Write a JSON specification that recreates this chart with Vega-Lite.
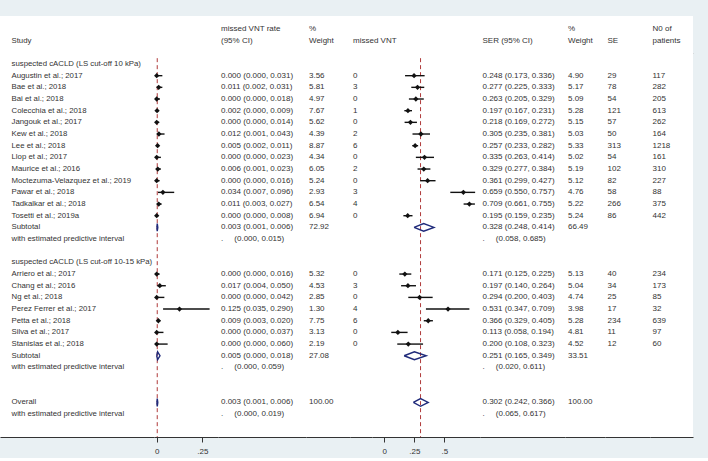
{
"$schema": "https://vega.github.io/schema/vega-lite/v6.json",
"background": "#e9f0f3",
"padding": {"left": 0, "top": 16, "right": 15, "bottom": 3},
"spacing": 0,
"bounds": "full",
"datasets": {
"head": [
{"row": -3, "rate": "missed VNT rate", "w1": "%", "w2": "%", "n": "N0 of"},
{"row": -2, "study": "Study", "rate": "(95% CI)", "w1": "Weight", "mv": "missed VNT", "ser": "SER (95% CI)", "w2": "Weight", "se": "SE", "n": "patients"}
],
"rows": [
{"row": 0, "study": "suspected cACLD (LS cut-off 10 kPa)"},
{"row": 1, "study": "Augustin et al.; 2017", "r": 0.000, "rl": 0.000, "rh": 0.031, "rate": "0.000 (0.000, 0.031)", "w1": "3.56", "mv": "0", "s": 0.248, "sl": 0.173, "sh": 0.336, "ser": "0.248 (0.173, 0.336)", "w2": "4.90", "se": "29", "n": "117"},
{"row": 2, "study": "Bae et al.; 2018", "r": 0.011, "rl": 0.002, "rh": 0.031, "rate": "0.011 (0.002, 0.031)", "w1": "5.81", "mv": "3", "s": 0.277, "sl": 0.225, "sh": 0.333, "ser": "0.277 (0.225, 0.333)", "w2": "5.17", "se": "78", "n": "282"},
{"row": 3, "study": "Bai et al.; 2018", "r": 0.000, "rl": 0.000, "rh": 0.018, "rate": "0.000 (0.000, 0.018)", "w1": "4.97", "mv": "0", "s": 0.263, "sl": 0.205, "sh": 0.329, "ser": "0.263 (0.205, 0.329)", "w2": "5.09", "se": "54", "n": "205"},
{"row": 4, "study": "Colecchia et al.; 2018", "r": 0.002, "rl": 0.000, "rh": 0.009, "rate": "0.002 (0.000, 0.009)", "w1": "7.67", "mv": "1", "s": 0.197, "sl": 0.167, "sh": 0.231, "ser": "0.197 (0.167, 0.231)", "w2": "5.28", "se": "121", "n": "613"},
{"row": 5, "study": "Jangouk et al.; 2017", "r": 0.000, "rl": 0.000, "rh": 0.014, "rate": "0.000 (0.000, 0.014)", "w1": "5.62", "mv": "0", "s": 0.218, "sl": 0.169, "sh": 0.272, "ser": "0.218 (0.169, 0.272)", "w2": "5.15", "se": "57", "n": "262"},
{"row": 6, "study": "Kew et al.; 2018", "r": 0.012, "rl": 0.001, "rh": 0.043, "rate": "0.012 (0.001, 0.043)", "w1": "4.39", "mv": "2", "s": 0.305, "sl": 0.235, "sh": 0.381, "ser": "0.305 (0.235, 0.381)", "w2": "5.03", "se": "50", "n": "164"},
{"row": 7, "study": "Lee et al.; 2018", "r": 0.005, "rl": 0.002, "rh": 0.011, "rate": "0.005 (0.002, 0.011)", "w1": "8.87", "mv": "6", "s": 0.257, "sl": 0.233, "sh": 0.282, "ser": "0.257 (0.233, 0.282)", "w2": "5.33", "se": "313", "n": "1218"},
{"row": 8, "study": "Llop et al.; 2017", "r": 0.000, "rl": 0.000, "rh": 0.023, "rate": "0.000 (0.000, 0.023)", "w1": "4.34", "mv": "0", "s": 0.335, "sl": 0.263, "sh": 0.414, "ser": "0.335 (0.263, 0.414)", "w2": "5.02", "se": "54", "n": "161"},
{"row": 9, "study": "Maurice et al.; 2016", "r": 0.006, "rl": 0.001, "rh": 0.023, "rate": "0.006 (0.001, 0.023)", "w1": "6.05", "mv": "2", "s": 0.329, "sl": 0.277, "sh": 0.384, "ser": "0.329 (0.277, 0.384)", "w2": "5.19", "se": "102", "n": "310"},
{"row": 10, "study": "Moctezuma-Velazquez et al.; 2019", "r": 0.000, "rl": 0.000, "rh": 0.016, "rate": "0.000 (0.000, 0.016)", "w1": "5.24", "mv": "0", "s": 0.361, "sl": 0.299, "sh": 0.427, "ser": "0.361 (0.299, 0.427)", "w2": "5.12", "se": "82", "n": "227"},
{"row": 11, "study": "Pawar et al.; 2018", "r": 0.034, "rl": 0.007, "rh": 0.096, "rate": "0.034 (0.007, 0.096)", "w1": "2.93", "mv": "3", "s": 0.659, "sl": 0.550, "sh": 0.757, "ser": "0.659 (0.550, 0.757)", "w2": "4.76", "se": "58", "n": "88"},
{"row": 12, "study": "Tadkalkar et al.; 2018", "r": 0.011, "rl": 0.003, "rh": 0.027, "rate": "0.011 (0.003, 0.027)", "w1": "6.54", "mv": "4", "s": 0.709, "sl": 0.661, "sh": 0.755, "ser": "0.709 (0.661, 0.755)", "w2": "5.22", "se": "266", "n": "375"},
{"row": 13, "study": "Tosetti et al.; 2019a", "r": 0.000, "rl": 0.000, "rh": 0.008, "rate": "0.000 (0.000, 0.008)", "w1": "6.94", "mv": "0", "s": 0.195, "sl": 0.159, "sh": 0.235, "ser": "0.195 (0.159, 0.235)", "w2": "5.24", "se": "86", "n": "442"},
{"row": 14, "study": "Subtotal", "rate": "0.003 (0.001, 0.006)", "w1": "72.92", "ser": "0.328 (0.248, 0.414)", "w2": "66.49"},
{"row": 15, "study": "with estimated predictive interval", "rate": ".\u00a0\u00a0\u00a0\u00a0\u00a0(0.000, 0.015)", "ser": ".\u00a0\u00a0\u00a0\u00a0\u00a0(0.058, 0.685)"},
{"row": 17, "study": "suspected cACLD (LS cut-off 10-15 kPa)"},
{"row": 18, "study": "Arriero et al.; 2017", "r": 0.000, "rl": 0.000, "rh": 0.016, "rate": "0.000 (0.000, 0.016)", "w1": "5.32", "mv": "0", "s": 0.171, "sl": 0.125, "sh": 0.225, "ser": "0.171 (0.125, 0.225)", "w2": "5.13", "se": "40", "n": "234"},
{"row": 19, "study": "Chang et al.; 2016", "r": 0.017, "rl": 0.004, "rh": 0.050, "rate": "0.017 (0.004, 0.050)", "w1": "4.53", "mv": "3", "s": 0.197, "sl": 0.140, "sh": 0.264, "ser": "0.197 (0.140, 0.264)", "w2": "5.04", "se": "34", "n": "173"},
{"row": 20, "study": "Ng et al.; 2018", "r": 0.000, "rl": 0.000, "rh": 0.042, "rate": "0.000 (0.000, 0.042)", "w1": "2.85", "mv": "0", "s": 0.294, "sl": 0.200, "sh": 0.403, "ser": "0.294 (0.200, 0.403)", "w2": "4.74", "se": "25", "n": "85"},
{"row": 21, "study": "Perez Ferrer et al.; 2017", "r": 0.125, "rl": 0.035, "rh": 0.290, "rate": "0.125 (0.035, 0.290)", "w1": "1.30", "mv": "4", "s": 0.531, "sl": 0.347, "sh": 0.709, "ser": "0.531 (0.347, 0.709)", "w2": "3.98", "se": "17", "n": "32"},
{"row": 22, "study": "Petta et al.; 2018", "r": 0.009, "rl": 0.003, "rh": 0.020, "rate": "0.009 (0.003, 0.020)", "w1": "7.75", "mv": "6", "s": 0.366, "sl": 0.329, "sh": 0.405, "ser": "0.366 (0.329, 0.405)", "w2": "5.28", "se": "234", "n": "639"},
{"row": 23, "study": "Silva et al.; 2017", "r": 0.000, "rl": 0.000, "rh": 0.037, "rate": "0.000 (0.000, 0.037)", "w1": "3.13", "mv": "0", "s": 0.113, "sl": 0.058, "sh": 0.194, "ser": "0.113 (0.058, 0.194)", "w2": "4.81", "se": "11", "n": "97"},
{"row": 24, "study": "Stanislas et al.; 2018", "r": 0.000, "rl": 0.000, "rh": 0.060, "rate": "0.000 (0.000, 0.060)", "w1": "2.19", "mv": "0", "s": 0.200, "sl": 0.108, "sh": 0.323, "ser": "0.200 (0.108, 0.323)", "w2": "4.52", "se": "12", "n": "60"},
{"row": 25, "study": "Subtotal", "rate": "0.005 (0.000, 0.018)", "w1": "27.08", "ser": "0.251 (0.165, 0.349)", "w2": "33.51"},
{"row": 26, "study": "with estimated predictive interval", "rate": ".\u00a0\u00a0\u00a0\u00a0\u00a0(0.000, 0.059)", "ser": ".\u00a0\u00a0\u00a0\u00a0\u00a0(0.020, 0.611)"},
{"row": 29, "study": "Overall", "rate": "0.003 (0.001, 0.006)", "w1": "100.00", "ser": "0.302 (0.242, 0.366)", "w2": "100.00"},
{"row": 30, "study": "with estimated predictive interval", "rate": ".\u00a0\u00a0\u00a0\u00a0\u00a0(0.000, 0.019)", "ser": ".\u00a0\u00a0\u00a0\u00a0\u00a0(0.065, 0.617)"}
],
"overall": [
{"plot": "r", "est": 0.003},
{"plot": "s", "est": 0.302}
],
"diam": [
{"plot": "r", "row": 14, "v": 1, "x": 0.001, "pos": "mid"},
{"plot": "r", "row": 14, "v": 2, "x": 0.003, "pos": "top"},
{"plot": "r", "row": 14, "v": 3, "x": 0.006, "pos": "mid"},
{"plot": "r", "row": 14, "v": 4, "x": 0.003, "pos": "bot"},
{"plot": "r", "row": 14, "v": 5, "x": 0.001, "pos": "mid"},
{"plot": "r", "row": 25, "v": 1, "x": 0.000, "pos": "mid"},
{"plot": "r", "row": 25, "v": 2, "x": 0.005, "pos": "top"},
{"plot": "r", "row": 25, "v": 3, "x": 0.018, "pos": "mid"},
{"plot": "r", "row": 25, "v": 4, "x": 0.005, "pos": "bot"},
{"plot": "r", "row": 25, "v": 5, "x": 0.000, "pos": "mid"},
{"plot": "r", "row": 29, "v": 1, "x": 0.001, "pos": "mid"},
{"plot": "r", "row": 29, "v": 2, "x": 0.003, "pos": "top"},
{"plot": "r", "row": 29, "v": 3, "x": 0.006, "pos": "mid"},
{"plot": "r", "row": 29, "v": 4, "x": 0.003, "pos": "bot"},
{"plot": "r", "row": 29, "v": 5, "x": 0.001, "pos": "mid"},
{"plot": "s", "row": 14, "v": 1, "x": 0.248, "pos": "mid"},
{"plot": "s", "row": 14, "v": 2, "x": 0.328, "pos": "top"},
{"plot": "s", "row": 14, "v": 3, "x": 0.414, "pos": "mid"},
{"plot": "s", "row": 14, "v": 4, "x": 0.328, "pos": "bot"},
{"plot": "s", "row": 14, "v": 5, "x": 0.248, "pos": "mid"},
{"plot": "s", "row": 25, "v": 1, "x": 0.165, "pos": "mid"},
{"plot": "s", "row": 25, "v": 2, "x": 0.251, "pos": "top"},
{"plot": "s", "row": 25, "v": 3, "x": 0.349, "pos": "mid"},
{"plot": "s", "row": 25, "v": 4, "x": 0.251, "pos": "bot"},
{"plot": "s", "row": 25, "v": 5, "x": 0.165, "pos": "mid"},
{"plot": "s", "row": 29, "v": 1, "x": 0.242, "pos": "mid"},
{"plot": "s", "row": 29, "v": 2, "x": 0.302, "pos": "top"},
{"plot": "s", "row": 29, "v": 3, "x": 0.366, "pos": "mid"},
{"plot": "s", "row": 29, "v": 4, "x": 0.302, "pos": "bot"},
{"plot": "s", "row": 29, "v": 5, "x": 0.242, "pos": "mid"}
]
},
"vconcat": [
{"hconcat": [
 {"width": 218, "height": 37, "data": {"name": "head"}, "transform": [{"filter": "isValid(datum.study)"}], "mark": {"type": "text", "align": "left", "baseline": "middle", "dx": 11.5, "fontSize": 7.8}, "encoding": {
  "y": {"field": "row", "type": "ordinal", "axis": null, "scale": {"type": "band", "domain": [-3, -2], "paddingInner": 0, "paddingOuter": 0.585, "align": 0.56, "round": false}},
  "x": {"datum": 0, "type": "quantitative", "scale": {"domain": [0, 1], "nice": false, "zero": false}, "axis": {"domain": true, "domainColor": "#c4c4c4", "ticks": false, "labels": false, "grid": false, "title": null}},
  "text": {"field": "study", "type": "nominal"}}},
 {"width": 88, "height": 37, "data": {"name": "head"}, "transform": [{"filter": "isValid(datum.rate)"}], "mark": {"type": "text", "align": "left", "baseline": "middle", "dx": 3}, "encoding": {
  "y": {"field": "row", "type": "ordinal", "axis": null, "scale": {"type": "band", "domain": [-3, -2], "paddingInner": 0, "paddingOuter": 0.585, "align": 0.56, "round": false}},
  "x": {"datum": 0, "type": "quantitative", "scale": {"domain": [0, 1], "nice": false, "zero": false}, "axis": {"domain": true, "domainColor": "#c4c4c4", "ticks": false, "labels": false, "grid": false, "title": null}},
  "text": {"field": "rate", "type": "nominal"}}},
 {"width": 44, "height": 37, "data": {"name": "head"}, "transform": [{"filter": "isValid(datum.w1)"}], "mark": {"type": "text", "align": "left", "baseline": "middle", "dx": 3}, "encoding": {
  "y": {"field": "row", "type": "ordinal", "axis": null, "scale": {"type": "band", "domain": [-3, -2], "paddingInner": 0, "paddingOuter": 0.585, "align": 0.56, "round": false}},
  "x": {"datum": 0, "type": "quantitative", "scale": {"domain": [0, 1], "nice": false, "zero": false}, "axis": {"domain": true, "domainColor": "#c4c4c4", "ticks": false, "labels": false, "grid": false, "title": null}},
  "text": {"field": "w1", "type": "nominal"}}},
 {"width": 130, "height": 37, "data": {"name": "head"}, "transform": [{"filter": "isValid(datum.mv)"}], "mark": {"type": "text", "align": "left", "baseline": "middle", "dx": 3}, "encoding": {
  "y": {"field": "row", "type": "ordinal", "axis": null, "scale": {"type": "band", "domain": [-3, -2], "paddingInner": 0, "paddingOuter": 0.585, "align": 0.56, "round": false}},
  "x": {"datum": 0, "type": "quantitative", "scale": {"domain": [0, 1], "nice": false, "zero": false}, "axis": {"domain": true, "domainColor": "#c4c4c4", "ticks": false, "labels": false, "grid": false, "title": null}},
  "text": {"field": "mv", "type": "nominal"}}},
 {"width": 85, "height": 37, "data": {"name": "head"}, "transform": [{"filter": "isValid(datum.ser)"}], "mark": {"type": "text", "align": "left", "baseline": "middle", "dx": 2.5}, "encoding": {
  "y": {"field": "row", "type": "ordinal", "axis": null, "scale": {"type": "band", "domain": [-3, -2], "paddingInner": 0, "paddingOuter": 0.585, "align": 0.56, "round": false}},
  "x": {"datum": 0, "type": "quantitative", "scale": {"domain": [0, 1], "nice": false, "zero": false}, "axis": {"domain": true, "domainColor": "#c4c4c4", "ticks": false, "labels": false, "grid": false, "title": null}},
  "text": {"field": "ser", "type": "nominal"}}},
 {"width": 40, "height": 37, "data": {"name": "head"}, "transform": [{"filter": "isValid(datum.w2)"}], "mark": {"type": "text", "align": "left", "baseline": "middle", "dx": 3}, "encoding": {
  "y": {"field": "row", "type": "ordinal", "axis": null, "scale": {"type": "band", "domain": [-3, -2], "paddingInner": 0, "paddingOuter": 0.585, "align": 0.56, "round": false}},
  "x": {"datum": 0, "type": "quantitative", "scale": {"domain": [0, 1], "nice": false, "zero": false}, "axis": {"domain": true, "domainColor": "#c4c4c4", "ticks": false, "labels": false, "grid": false, "title": null}},
  "text": {"field": "w2", "type": "nominal"}}},
 {"width": 45, "height": 37, "data": {"name": "head"}, "transform": [{"filter": "isValid(datum.se)"}], "mark": {"type": "text", "align": "left", "baseline": "middle", "dx": 2.5}, "encoding": {
  "y": {"field": "row", "type": "ordinal", "axis": null, "scale": {"type": "band", "domain": [-3, -2], "paddingInner": 0, "paddingOuter": 0.585, "align": 0.56, "round": false}},
  "x": {"datum": 0, "type": "quantitative", "scale": {"domain": [0, 1], "nice": false, "zero": false}, "axis": {"domain": true, "domainColor": "#c4c4c4", "ticks": false, "labels": false, "grid": false, "title": null}},
  "text": {"field": "se", "type": "nominal"}}},
 {"width": 43, "height": 37, "data": {"name": "head"}, "transform": [{"filter": "isValid(datum.n)"}], "mark": {"type": "text", "align": "left", "baseline": "middle", "dx": 2.5}, "encoding": {
  "y": {"field": "row", "type": "ordinal", "axis": null, "scale": {"type": "band", "domain": [-3, -2], "paddingInner": 0, "paddingOuter": 0.585, "align": 0.56, "round": false}},
  "x": {"datum": 0, "type": "quantitative", "scale": {"domain": [0, 1], "nice": false, "zero": false}, "axis": {"domain": true, "domainColor": "#c4c4c4", "ticks": false, "labels": false, "grid": false, "title": null}},
  "text": {"field": "n", "type": "nominal"}}}
], "spacing": 0, "bounds": "flush"},
{"hconcat": [
 {"width": 154, "height": 384, "data": {"name": "rows"}, "transform": [{"filter": "isValid(datum.study)"}], "mark": {"type": "text", "align": "left", "baseline": "middle", "dx": 11.5, "fontSize": 7.8}, "encoding": {
  "y": {"field": "row", "type": "ordinal", "axis": null, "scale": {"type": "band", "domain": [0,1,2,3,4,5,6,7,8,9,10,11,12,13,14,15,16,17,18,19,20,21,22,23,24,25,26,27,28,29,30,31], "paddingInner": 0, "paddingOuter": 0.4525, "align": 0.489, "round": false}},
  "x": {"datum": 0, "type": "quantitative", "scale": {"domain": [0, 1], "nice": false, "zero": false}, "axis": {"domain": true, "ticks": false, "labels": false, "grid": false, "title": null}},
  "text": {"field": "study", "type": "nominal"}}},
 {"width": 64, "height": 384, "layer": [
  {"data": {"name": "overall"}, "transform": [{"filter": "datum.plot == 'r'"}], "mark": {"type": "rule", "color": "#b03a3a", "strokeDash": [4, 3], "strokeWidth": 1}, "encoding": {
   "x": {"field": "est", "type": "quantitative", "scale": {"domain": [-0.0148, 0.3361], "nice": false, "zero": false}, "axis": {"values": [0, 0.25], "labelExpr": "datum.value == 0 ? '0' : '.25'", "title": null}},
   "y": {"datum": 0, "type": "ordinal", "bandPosition": 0, "axis": null, "scale": {"type": "band", "domain": [0,1,2,3,4,5,6,7,8,9,10,11,12,13,14,15,16,17,18,19,20,21,22,23,24,25,26,27,28,29,30,31], "paddingInner": 0, "paddingOuter": 0.4525, "align": 0.489, "round": false}},
   "y2": {"value": "height"}}},
  {"data": {"name": "rows"}, "transform": [{"filter": "isValid(datum.rl)"}], "mark": {"type": "rule", "color": "#111111", "strokeWidth": 1.4}, "encoding": {
   "x": {"field": "rl", "type": "quantitative", "scale": {"domain": [-0.0148, 0.3361], "nice": false, "zero": false}, "axis": {"values": [0, 0.25], "labelExpr": "datum.value == 0 ? '0' : '.25'", "title": null}},
   "x2": {"field": "rh"},
   "y": {"field": "row", "type": "ordinal", "axis": null, "scale": {"type": "band", "domain": [0,1,2,3,4,5,6,7,8,9,10,11,12,13,14,15,16,17,18,19,20,21,22,23,24,25,26,27,28,29,30,31], "paddingInner": 0, "paddingOuter": 0.4525, "align": 0.489, "round": false}}}},
  {"data": {"name": "rows"}, "transform": [{"filter": "isValid(datum.r)"}], "mark": {"type": "point", "shape": "diamond", "filled": true, "size": 28, "color": "#111111", "opacity": 1, "clip": false}, "encoding": {
   "x": {"field": "r", "type": "quantitative", "scale": {"domain": [-0.0148, 0.3361], "nice": false, "zero": false}, "axis": {"values": [0, 0.25], "labelExpr": "datum.value == 0 ? '0' : '.25'", "title": null}},
   "y": {"field": "row", "type": "ordinal", "axis": null, "scale": {"type": "band", "domain": [0,1,2,3,4,5,6,7,8,9,10,11,12,13,14,15,16,17,18,19,20,21,22,23,24,25,26,27,28,29,30,31], "paddingInner": 0, "paddingOuter": 0.4525, "align": 0.489, "round": false}}}},
  {"data": {"name": "diam"}, "transform": [{"filter": "datum.plot == 'r'"}], "mark": {"type": "line", "color": "#1f2a7a", "strokeWidth": 1.4, "clip": false}, "encoding": {
   "x": {"field": "x", "type": "quantitative", "scale": {"domain": [-0.0148, 0.3361], "nice": false, "zero": false}, "axis": {"values": [0, 0.25], "labelExpr": "datum.value == 0 ? '0' : '.25'", "title": null}},
   "y": {"field": "row", "type": "ordinal", "axis": null, "scale": {"type": "band", "domain": [0,1,2,3,4,5,6,7,8,9,10,11,12,13,14,15,16,17,18,19,20,21,22,23,24,25,26,27,28,29,30,31], "paddingInner": 0, "paddingOuter": 0.4525, "align": 0.489, "round": false}},
   "yOffset": {"field": "pos", "type": "nominal", "scale": {"type": "point", "domain": ["top", "mid", "bot"], "padding": 0.5}},
   "detail": {"field": "row", "type": "nominal"},
   "order": {"field": "v", "type": "quantitative"}}}
 ]},
 {"width": 88, "height": 384, "data": {"name": "rows"}, "transform": [{"filter": "isValid(datum.rate)"}], "mark": {"type": "text", "align": "left", "baseline": "middle", "dx": 3}, "encoding": {
  "y": {"field": "row", "type": "ordinal", "axis": null, "scale": {"type": "band", "domain": [0,1,2,3,4,5,6,7,8,9,10,11,12,13,14,15,16,17,18,19,20,21,22,23,24,25,26,27,28,29,30,31], "paddingInner": 0, "paddingOuter": 0.4525, "align": 0.489, "round": false}},
  "x": {"datum": 0, "type": "quantitative", "scale": {"domain": [0, 1], "nice": false, "zero": false}, "axis": {"domain": true, "ticks": false, "labels": false, "grid": false, "title": null}},
  "text": {"field": "rate", "type": "nominal"}}},
 {"width": 44, "height": 384, "data": {"name": "rows"}, "transform": [{"filter": "isValid(datum.w1)"}], "mark": {"type": "text", "align": "left", "baseline": "middle", "dx": 3}, "encoding": {
  "y": {"field": "row", "type": "ordinal", "axis": null, "scale": {"type": "band", "domain": [0,1,2,3,4,5,6,7,8,9,10,11,12,13,14,15,16,17,18,19,20,21,22,23,24,25,26,27,28,29,30,31], "paddingInner": 0, "paddingOuter": 0.4525, "align": 0.489, "round": false}},
  "x": {"datum": 0, "type": "quantitative", "scale": {"domain": [0, 1], "nice": false, "zero": false}, "axis": {"domain": true, "ticks": false, "labels": false, "grid": false, "title": null}},
  "text": {"field": "w1", "type": "nominal"}}},
 {"width": 22, "height": 384, "data": {"name": "rows"}, "transform": [{"filter": "isValid(datum.mv)"}], "mark": {"type": "text", "align": "left", "baseline": "middle", "dx": 3}, "encoding": {
  "y": {"field": "row", "type": "ordinal", "axis": null, "scale": {"type": "band", "domain": [0,1,2,3,4,5,6,7,8,9,10,11,12,13,14,15,16,17,18,19,20,21,22,23,24,25,26,27,28,29,30,31], "paddingInner": 0, "paddingOuter": 0.4525, "align": 0.489, "round": false}},
  "x": {"datum": 0, "type": "quantitative", "scale": {"domain": [0, 1], "nice": false, "zero": false}, "axis": {"domain": true, "ticks": false, "labels": false, "grid": false, "title": null}},
  "text": {"field": "mv", "type": "nominal"}}},
 {"width": 108, "height": 384, "layer": [
  {"data": {"name": "overall"}, "transform": [{"filter": "datum.plot == 's'"}], "mark": {"type": "rule", "color": "#b03a3a", "strokeDash": [4, 3], "strokeWidth": 1}, "encoding": {
   "x": {"field": "est", "type": "quantitative", "scale": {"domain": [-0.1025, 0.7975], "nice": false, "zero": false}, "axis": {"values": [0, 0.25, 0.5], "labelExpr": "datum.value == 0 ? '0' : datum.value == 0.25 ? '.25' : '.5'", "title": null}},
   "y": {"datum": 0, "type": "ordinal", "bandPosition": 0, "axis": null, "scale": {"type": "band", "domain": [0,1,2,3,4,5,6,7,8,9,10,11,12,13,14,15,16,17,18,19,20,21,22,23,24,25,26,27,28,29,30,31], "paddingInner": 0, "paddingOuter": 0.4525, "align": 0.489, "round": false}},
   "y2": {"value": "height"}}},
  {"data": {"name": "rows"}, "transform": [{"filter": "isValid(datum.sl)"}], "mark": {"type": "rule", "color": "#111111", "strokeWidth": 1.4}, "encoding": {
   "x": {"field": "sl", "type": "quantitative", "scale": {"domain": [-0.1025, 0.7975], "nice": false, "zero": false}, "axis": {"values": [0, 0.25, 0.5], "labelExpr": "datum.value == 0 ? '0' : datum.value == 0.25 ? '.25' : '.5'", "title": null}},
   "x2": {"field": "sh"},
   "y": {"field": "row", "type": "ordinal", "axis": null, "scale": {"type": "band", "domain": [0,1,2,3,4,5,6,7,8,9,10,11,12,13,14,15,16,17,18,19,20,21,22,23,24,25,26,27,28,29,30,31], "paddingInner": 0, "paddingOuter": 0.4525, "align": 0.489, "round": false}}}},
  {"data": {"name": "rows"}, "transform": [{"filter": "isValid(datum.s)"}], "mark": {"type": "point", "shape": "diamond", "filled": true, "size": 28, "color": "#111111", "opacity": 1}, "encoding": {
   "x": {"field": "s", "type": "quantitative", "scale": {"domain": [-0.1025, 0.7975], "nice": false, "zero": false}, "axis": {"values": [0, 0.25, 0.5], "labelExpr": "datum.value == 0 ? '0' : datum.value == 0.25 ? '.25' : '.5'", "title": null}},
   "y": {"field": "row", "type": "ordinal", "axis": null, "scale": {"type": "band", "domain": [0,1,2,3,4,5,6,7,8,9,10,11,12,13,14,15,16,17,18,19,20,21,22,23,24,25,26,27,28,29,30,31], "paddingInner": 0, "paddingOuter": 0.4525, "align": 0.489, "round": false}}}},
  {"data": {"name": "diam"}, "transform": [{"filter": "datum.plot == 's'"}], "mark": {"type": "line", "color": "#1f2a7a", "strokeWidth": 1.4}, "encoding": {
   "x": {"field": "x", "type": "quantitative", "scale": {"domain": [-0.1025, 0.7975], "nice": false, "zero": false}, "axis": {"values": [0, 0.25, 0.5], "labelExpr": "datum.value == 0 ? '0' : datum.value == 0.25 ? '.25' : '.5'", "title": null}},
   "y": {"field": "row", "type": "ordinal", "axis": null, "scale": {"type": "band", "domain": [0,1,2,3,4,5,6,7,8,9,10,11,12,13,14,15,16,17,18,19,20,21,22,23,24,25,26,27,28,29,30,31], "paddingInner": 0, "paddingOuter": 0.4525, "align": 0.489, "round": false}},
   "yOffset": {"field": "pos", "type": "nominal", "scale": {"type": "point", "domain": ["top", "mid", "bot"], "padding": 0.5}},
   "detail": {"field": "row", "type": "nominal"},
   "order": {"field": "v", "type": "quantitative"}}}
 ]},
 {"width": 85, "height": 384, "data": {"name": "rows"}, "transform": [{"filter": "isValid(datum.ser)"}], "mark": {"type": "text", "align": "left", "baseline": "middle", "dx": 2.5}, "encoding": {
  "y": {"field": "row", "type": "ordinal", "axis": null, "scale": {"type": "band", "domain": [0,1,2,3,4,5,6,7,8,9,10,11,12,13,14,15,16,17,18,19,20,21,22,23,24,25,26,27,28,29,30,31], "paddingInner": 0, "paddingOuter": 0.4525, "align": 0.489, "round": false}},
  "x": {"datum": 0, "type": "quantitative", "scale": {"domain": [0, 1], "nice": false, "zero": false}, "axis": {"domain": true, "ticks": false, "labels": false, "grid": false, "title": null}},
  "text": {"field": "ser", "type": "nominal"}}},
 {"width": 40, "height": 384, "data": {"name": "rows"}, "transform": [{"filter": "isValid(datum.w2)"}], "mark": {"type": "text", "align": "left", "baseline": "middle", "dx": 3}, "encoding": {
  "y": {"field": "row", "type": "ordinal", "axis": null, "scale": {"type": "band", "domain": [0,1,2,3,4,5,6,7,8,9,10,11,12,13,14,15,16,17,18,19,20,21,22,23,24,25,26,27,28,29,30,31], "paddingInner": 0, "paddingOuter": 0.4525, "align": 0.489, "round": false}},
  "x": {"datum": 0, "type": "quantitative", "scale": {"domain": [0, 1], "nice": false, "zero": false}, "axis": {"domain": true, "ticks": false, "labels": false, "grid": false, "title": null}},
  "text": {"field": "w2", "type": "nominal"}}},
 {"width": 45, "height": 384, "data": {"name": "rows"}, "transform": [{"filter": "isValid(datum.se)"}], "mark": {"type": "text", "align": "left", "baseline": "middle", "dx": 2.5}, "encoding": {
  "y": {"field": "row", "type": "ordinal", "axis": null, "scale": {"type": "band", "domain": [0,1,2,3,4,5,6,7,8,9,10,11,12,13,14,15,16,17,18,19,20,21,22,23,24,25,26,27,28,29,30,31], "paddingInner": 0, "paddingOuter": 0.4525, "align": 0.489, "round": false}},
  "x": {"datum": 0, "type": "quantitative", "scale": {"domain": [0, 1], "nice": false, "zero": false}, "axis": {"domain": true, "ticks": false, "labels": false, "grid": false, "title": null}},
  "text": {"field": "se", "type": "nominal"}}},
 {"width": 43, "height": 384, "data": {"name": "rows"}, "transform": [{"filter": "isValid(datum.n)"}], "mark": {"type": "text", "align": "left", "baseline": "middle", "dx": 2.5}, "encoding": {
  "y": {"field": "row", "type": "ordinal", "axis": null, "scale": {"type": "band", "domain": [0,1,2,3,4,5,6,7,8,9,10,11,12,13,14,15,16,17,18,19,20,21,22,23,24,25,26,27,28,29,30,31], "paddingInner": 0, "paddingOuter": 0.4525, "align": 0.489, "round": false}},
  "x": {"datum": 0, "type": "quantitative", "scale": {"domain": [0, 1], "nice": false, "zero": false}, "axis": {"domain": true, "ticks": false, "labels": false, "grid": false, "title": null}},
  "text": {"field": "n", "type": "nominal"}}}
], "spacing": 0, "bounds": "flush"}
],
"config": {
 "view": {"stroke": null, "fill": "white"},
 "text": {"font": "Liberation Sans", "fontSize": 8, "color": "#333333"},
 "axis": {"labelFont": "Liberation Sans", "labelFontSize": 8, "labelColor": "#333333", "domainColor": "#333333", "tickColor": "#333333", "grid": false, "tickSize": 5, "labelPadding": 5, "domainWidth": 1, "tickWidth": 1}
}
}
